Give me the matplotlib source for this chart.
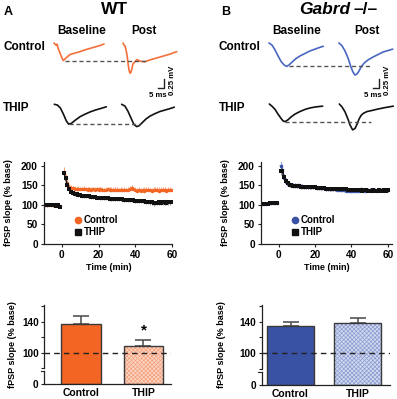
import numpy as np
import matplotlib
matplotlib.use('Agg')
import matplotlib.pyplot as plt
from matplotlib.lines import Line2D

W, H = 397, 399
plt.rcParams['font.family'] = ['Liberation Sans', 'DejaVu Sans']
plt.rcParams['font.weight'] = 'bold'
plt.rcParams['hatch.linewidth'] = 0.5

# ------------------------------------------------------------------ data
# example fPSP traces (time in ms, voltage in mV relative to trace start)
wt_ctrl_base_t = [0, 0.8, 1.5, 2.3, 3, 4.5, 6, 7, 8.3, 9.8, 12, 15.8, 19.5, 23.3, 27, 30.8, 34.5, 37.5]
wt_ctrl_base_v = [0, -0.03, -0.06, -0.03, -0.14, -0.28, -0.42, -0.49, -0.44, -0.39, -0.32, -0.28,
                  -0.24, -0.19, -0.15, -0.11, -0.07, -0.03]
wt_ctrl_post_t = [0, 0.75, 1.5, 2.25, 3, 3.75, 4.5, 5.25, 6, 6.75, 7.5, 9, 10.5, 12, 13.5, 16.5,
                  20.25, 24, 27.75, 31.5, 35.25, 40.3]
wt_ctrl_post_v = [0, -0.06, -0.08, -0.19, -0.33, -0.56, -0.75, -0.84, -0.81, -0.70, -0.58, -0.52,
                  -0.46, -0.49, -0.51, -0.52, -0.47, -0.43, -0.39, -0.35, -0.31, -0.24]
wt_thip_base_t = [0, 2.3, 4.5, 6.8, 9, 10.7, 12.8, 15.8, 19.5, 23.3, 27, 30.8, 34.5, 39]
wt_thip_base_v = [0, -0.02, -0.10, -0.27, -0.46, -0.55, -0.53, -0.44, -0.34, -0.27, -0.21, -0.16,
                  -0.12, -0.07]
wt_thip_post_t = [0, 2.5, 4.7, 7, 9.2, 11.3, 13, 15.2, 18.2, 21.2, 25, 28.7, 32.5, 36.2, 39.5]
wt_thip_post_v = [0, -0.05, -0.19, -0.38, -0.56, -0.62, -0.60, -0.52, -0.41, -0.33, -0.26, -0.20,
                  -0.16, -0.12, -0.08]

ko_ctrl_base_t = [0, 2.3, 4.5, 6.8, 9, 11.3, 13.3, 15, 17.3, 20.3, 23.3, 27, 30.8, 34.5, 38.3, 40.7]
ko_ctrl_base_v = [0, -0.06, -0.19, -0.36, -0.51, -0.61, -0.65, -0.61, -0.53, -0.43, -0.36, -0.29,
                  -0.22, -0.17, -0.12, -0.09]
ko_ctrl_post_t = [0, 2.3, 4.5, 6.8, 9, 10.5, 12, 13.5, 15, 16.5, 18.8, 21.8, 25.5, 29.3, 33, 36.8, 40.3]
ko_ctrl_post_v = [0, -0.08, -0.22, -0.42, -0.67, -0.81, -0.89, -0.86, -0.78, -0.67, -0.56, -0.47,
                  -0.39, -0.32, -0.25, -0.21, -0.17]
ko_thip_base_t = [0, 2, 4.3, 6.5, 8.8, 10.3, 11.8, 14, 16.3, 19.3, 23, 26.8, 30.5, 35, 40]
ko_thip_base_v = [0, -0.06, -0.15, -0.28, -0.40, -0.47, -0.49, -0.44, -0.36, -0.28, -0.21, -0.15,
                  -0.11, -0.08, -0.06]
ko_thip_post_t = [0, 2, 4.3, 6.5, 8, 10, 11.8, 13.3, 14.8, 16.3, 18, 20.8, 24.5, 29, 34.3, 40.5]
ko_thip_post_v = [0, -0.08, -0.22, -0.42, -0.58, -0.72, -0.68, -0.56, -0.42, -0.32, -0.26, -0.21,
                  -0.18, -0.14, -0.10, -0.06]

scale_ms = 5
scale_mv = 0.25

# time course (min) and fPSP slope (% baseline)
time_base = [-10, -9, -8, -7, -6, -5, -4, -3, -2, -1]
time_post = np.arange(1, 61)

wt_ctrl_base = [100, 101, 100, 99, 101, 100, 99, 100, 99, 97]
wt_thip_base = [100, 100, 99, 100, 100, 99, 100, 98, 99, 96]
wt_ctrl_post = [185, 170, 155, 147, 144, 143, 142, 141, 142, 141,
                140, 141, 140, 139, 140, 139, 140, 139, 140, 139,
                140, 139, 138, 139, 140, 139, 138, 139, 138, 139,
                138, 139, 138, 139, 138, 139, 140, 143, 140, 138,
                137, 138, 137, 138, 137, 138, 139, 138, 137, 138,
                139, 138, 137, 138, 139, 138, 137, 138, 138, 138]
wt_thip_post = [183, 168, 150, 140, 134, 131, 129, 128, 126, 125,
                124, 124, 123, 122, 122, 121, 120, 120, 119, 119,
                118, 118, 117, 117, 117, 116, 116, 115, 115, 115,
                114, 114, 114, 113, 113, 113, 112, 112, 112, 111,
                111, 110, 110, 109, 109, 108, 108, 107, 107, 105,
                106, 106, 107, 106, 107, 107, 106, 107, 107, 107]
wt_ctrl_base_err = [3, 3, 2, 3, 3, 2, 3, 3, 2, 3]
wt_thip_base_err = [3, 2, 3, 3, 2, 3, 3, 2, 3, 4]
wt_ctrl_post_err = [12, 10, 8, 7, 7, 6, 6, 6, 7, 6, 6, 7, 6, 6, 7, 6, 7, 6, 6, 7,
                    6, 7, 6, 6, 7, 6, 7, 6, 7, 6, 6, 7, 6, 7, 6, 7, 8, 9, 7, 7,
                    6, 7, 7, 6, 8, 7, 7, 6, 7, 8, 7, 7, 8, 7, 7, 8, 7, 7, 8, 7]
wt_thip_post_err = [10, 9, 8, 7, 6, 6, 5, 5, 5, 5, 5, 5, 5, 5, 5, 5, 5, 5, 5, 5,
                    5, 5, 5, 5, 5, 5, 5, 5, 5, 5, 5, 5, 5, 5, 5, 5, 5, 5, 5, 5,
                    5, 5, 5, 5, 5, 6, 6, 6, 6, 7, 6, 6, 6, 6, 6, 6, 6, 6, 6, 6]

ko_ctrl_base = [102, 103, 103, 103, 104, 104, 104, 105, 105, 105]
ko_thip_base = [102, 103, 103, 103, 103, 104, 104, 104, 105, 105]
ko_ctrl_post = [200, 190, 170, 160, 154, 152, 151, 150, 150, 149,
                149, 148, 148, 147, 147, 147, 146, 146, 145, 145,
                144, 144, 144, 143, 143, 142, 142, 141, 141, 140,
                140, 139, 139, 139, 138, 138, 137, 137, 136, 136,
                135, 135, 136, 137, 140, 138, 137, 137, 138, 138,
                137, 138, 138, 137, 138, 138, 138, 138, 138, 138]
ko_thip_post = [188, 186, 172, 162, 155, 152, 150, 149, 149, 148,
                148, 147, 147, 147, 146, 146, 146, 145, 145, 145,
                144, 144, 144, 143, 143, 142, 142, 142, 141, 142,
                141, 141, 142, 141, 140, 140, 140, 139, 139, 139,
                139, 138, 138, 138, 138, 137, 138, 138, 137, 137,
                137, 138, 137, 137, 138, 137, 137, 138, 137, 138]
ko_ctrl_base_err = [2, 2, 2, 2, 2, 2, 2, 2, 2, 2]
ko_thip_base_err = [2, 2, 2, 2, 2, 2, 2, 2, 2, 2]
ko_ctrl_post_err = [12, 15, 10, 8, 7, 6, 6, 6, 6, 6, 6, 6, 5, 5, 5, 5, 5, 5, 5, 5,
                    5, 5, 5, 5, 5, 5, 5, 5, 5, 5, 5, 5, 5, 5, 5, 5, 5, 5, 5, 5,
                    5, 5, 5, 5, 6, 5, 5, 5, 5, 5, 5, 5, 5, 5, 5, 5, 5, 5, 5, 5]
ko_thip_post_err = [12, 10, 8, 7, 6, 5, 5, 5, 5, 5, 5, 5, 5, 5, 5, 5, 5, 5, 5, 5,
                    5, 5, 5, 5, 5, 5, 5, 5, 5, 5, 5, 5, 5, 5, 5, 5, 5, 5, 5, 5,
                    5, 5, 5, 5, 5, 5, 5, 5, 5, 5, 5, 5, 5, 5, 5, 5, 5, 5, 5, 5]

# summary bars
bar_labels = ['Control', 'THIP']
wt_bar_mean = [137, 108]
wt_bar_sem = [10, 8]
ko_bar_mean = [135, 139]
ko_bar_sem = [5, 5.5]

# ------------------------------------------------------------------ style
ORANGE = '#F26522'
ORANGE_TR = '#F4703A'
ORANGE_ERR = '#F9A57E'
ORANGE_LIGHT = '#FBD5C3'
ORANGE_HATCH = '#F4A07C'
BLUE = '#3A52A4'
BLUE_TR = '#4A66C0'
BLUE_ERR = '#8FA2DC'
BLUE_LIGHT = '#D2D9EF'
BLUE_HATCH = '#8C9CD2'
SPINE = '#222222'
MS_PER_PX = 0.75
MV_PER_PX = 0.0278

fig = plt.figure(figsize=(W / 100, H / 100), dpi=100)


def px_axes(x0, y0, x1, y1):
    return fig.add_axes([x0 / W, 1 - y1 / H, (x1 - x0) / W, (y1 - y0) / H])


def ftext(x, y, s, **kw):
    return fig.text(x / W, 1 - y / H, s, **kw)


# ------------------------------------------------------------------ traces
def trace_row(box, origin, base_t, base_v, post_t, post_v, post_off, color,
              dash_from, dash_to, scalebar=False):
    x0, y0, x1, y1 = box
    ox, oy = origin
    ax = px_axes(*box)
    ax.set_xlim((x0 - ox) * MS_PER_PX, (x1 - ox) * MS_PER_PX)
    ax.set_ylim(-(y1 - oy) * MV_PER_PX, -(y0 - oy) * MV_PER_PX)
    ax.axis('off')
    ax.plot(base_t, base_v, color=color, lw=1.2, solid_capstyle='round')
    ax.plot(np.asarray(post_t) + post_off, post_v, color=color, lw=1.2,
            solid_capstyle='round')
    lvl = min(base_v)
    ax.plot([dash_from, dash_to], [lvl, lvl], color='#555555', lw=1.0,
            ls=(0, (3, 2)))
    if scalebar:
        bx = 110.3 * MS_PER_PX
        by = -1.0
        ax.plot([bx - scale_ms, bx, bx], [by - scale_mv, by - scale_mv, by],
                color='#222222', lw=1.0, clip_on=False)
        ax.text(bx - scale_ms / 2 - 2.5, by - scale_mv - 0.1, '5 ms',
                ha='center', va='top', fontsize=5.6)
        ax.text(bx + 6.5, by - scale_mv / 2 + 0.08, '0.25 mV', rotation=90,
                ha='center', va='center', fontsize=5.6)
    return ax


trace_row((50, 36, 180, 100), (54, 43), wt_ctrl_base_t, wt_ctrl_base_v,
          wt_ctrl_post_t, wt_ctrl_post_v, 51.75, ORANGE_TR, 8.3, 70.5, scalebar=True)
trace_row((50, 98, 180, 132), (54.3, 104.3), wt_thip_base_t, wt_thip_base_v,
          wt_thip_post_t, wt_thip_post_v, 50.5, '#111111', 11, 64.3)
trace_row((265, 36, 397, 100), (269, 43), ko_ctrl_base_t, ko_ctrl_base_v,
          ko_ctrl_post_t, ko_ctrl_post_v, 52.5, BLUE_TR, 15, 76.5, scalebar=True)
trace_row((265, 98, 397, 132), (269.3, 104), ko_thip_base_t, ko_thip_base_v,
          ko_thip_post_t, ko_thip_post_v, 52.5, '#111111', 11.8, 76.3)

# headers
ftext(8, 12, 'A', ha='center', va='center', fontsize=9)
ftext(115, 10, 'WT', ha='center', va='center', fontsize=12.5)
ftext(226, 12, 'B', ha='center', va='center', fontsize=9)
ftext(350, 10, 'Gabrd', ha='right', va='center', fontsize=12.5, style='italic')
ftext(354, 10, '–/–', ha='left', va='center', fontsize=12.5)
for xb, xp in [(82, 144), (297, 367)]:
    ftext(xb, 31, 'Baseline', ha='center', va='center', fontsize=8.5)
    ftext(xp, 31, 'Post', ha='center', va='center', fontsize=8.5)
for xl in [3, 219]:
    ftext(xl, 47.5, 'Control', ha='left', va='center', fontsize=8.5)
    ftext(xl, 108, 'THIP', ha='left', va='center', fontsize=8.5)


# ------------------------------------------------------------------ time course
def style_axes(ax):
    for s in ['top', 'right']:
        ax.spines[s].set_visible(False)
    for s in ['left', 'bottom']:
        ax.spines[s].set_color(SPINE)
        ax.spines[s].set_linewidth(0.9)
    ax.tick_params(direction='out', length=2.5, width=0.8, colors=SPINE,
                   labelsize=7.2, pad=1.5, labelcolor='black')
    ax.patch.set_alpha(0)


def timecourse(box, xmax, c_base, c_post, t_base, t_post, c_be, c_pe, t_be, t_pe,
               ccol, cerr, leg_xy, ylab_x):
    ax = px_axes(*box)
    style_axes(ax)
    ax.set_xlim(-10, xmax)
    ax.set_ylim(0, 210)
    ax.set_yticks([0, 50, 100, 150, 200])
    ax.set_xticks([0, 20, 40, 60])
    for tt, cv, tv, ce, te in [(time_base, c_base, t_base, c_be, t_be),
                               (time_post, c_post, t_post, c_pe, t_pe)]:
        z = np.zeros(len(tt))
        ax.errorbar(tt, cv, yerr=[z, ce], fmt='none', ecolor=cerr, elinewidth=0.8,
                    capsize=0)
        ax.errorbar(tt, tv, yerr=[te, z], fmt='none', ecolor='#9A9A9A',
                    elinewidth=0.8, capsize=0)
        ax.plot(tt, cv, '-o', color=ccol, ms=2.5, lw=1.0, mew=0)
        ax.plot(tt, tv, '-s', color='#111111', ms=2.3, lw=1.0, mew=0)
    handles = [Line2D([], [], ls='none', marker='o', color=ccol, ms=4.5),
               Line2D([], [], ls='none', marker='s', color='#111111', ms=4)]
    ax.legend(handles, ['Control', 'THIP'], loc='upper left', frameon=False,
              bbox_to_anchor=(leg_xy[0] / W, 1 - leg_xy[1] / H),
              bbox_transform=fig.transFigure, fontsize=7, handlelength=0.6,
              handletextpad=0.3, labelspacing=0.25, borderpad=0, borderaxespad=0)
    ftext(ylab_x, 203, 'fPSP slope (% base)', rotation=90, ha='center',
          va='center', fontsize=6.5)
    ftext((box[0] + box[2]) / 2 + 1, 267, 'Time (min)', ha='center', va='center',
          fontsize=6.5)
    return ax


timecourse((43.5, 162, 172, 244), 60, wt_ctrl_base, wt_ctrl_post, wt_thip_base,
           wt_thip_post, wt_ctrl_base_err, wt_ctrl_post_err, wt_thip_base_err,
           wt_thip_post_err, ORANGE, ORANGE_ERR, (75, 215), 9)
timecourse((260.5, 162, 391.5, 244), 62, ko_ctrl_base, ko_ctrl_post, ko_thip_base,
           ko_thip_post, ko_ctrl_base_err, ko_ctrl_post_err, ko_thip_base_err,
           ko_thip_post_err, BLUE, BLUE_ERR, (292, 215), 226)


# ------------------------------------------------------------------ bars
def fwd(y):
    y = np.asarray(y, float)
    return np.where(y >= 80, y, 80 - (80 - y) * 0.26)


def inv(y):
    y = np.asarray(y, float)
    return np.where(y >= 80, y, 80 - (80 - y) / 0.26)


def bars(box, xlim, width, means, sems, col, light, hatchcol, ylab_x, star=False):
    ax = px_axes(*box)
    style_axes(ax)
    ax.set_yscale('function', functions=(fwd, inv))
    ax.set_xlim(*xlim)
    ax.set_ylim(0, 161.5)
    ax.spines['left'].set_visible(False)
    tr = ax.get_yaxis_transform()
    ax.plot([0, 0], [80, 161.5], transform=tr, color=SPINE, lw=0.9, clip_on=False)
    ax.plot([0, 0], [0, 65], transform=tr, color=SPINE, lw=0.9, clip_on=False)
    ax.plot([-0.025, 0], [65, 65], transform=tr, color=SPINE, lw=0.8, clip_on=False)
    ax.set_yticks([0, 100, 140])
    ax.set_yticks([80, 120, 160], minor=True)
    ax.tick_params(axis='y', which='minor', length=2.5, width=0.8, colors=SPINE)
    x = np.arange(len(means))
    ax.bar(x, means, width=width, color=[col, light], zorder=2, lw=0,
           edgecolor=['none', hatchcol], hatch=['', 'xxxxxxxx'])
    ax.bar(x, means, width=width, fill=False, edgecolor='#3A3A3A', lw=1.0, zorder=3)
    ax.errorbar(x, means, yerr=[np.zeros(len(sems)), sems], fmt='none',
                ecolor='#555555', elinewidth=1.2, capsize=6, capthick=1.2, zorder=1.5)
    ax.axhline(100, color='#222222', lw=1.0, ls=(0, (4, 3)), zorder=4)
    ax.set_xticks(x)
    ax.set_xticklabels(bar_labels, fontsize=7.5)
    ax.tick_params(axis='x', length=0, pad=3)
    if star:
        ax.text(1, means[1] + sems[1] + 4, '*', ha='center', va='bottom',
                fontsize=11)
    ftext(ylab_x, 345, 'fPSP slope (% base)', rotation=90, ha='center',
          va='center', fontsize=6.5)
    return ax


bars((44.3, 305, 171, 384.3), (-0.583, 1.439), 0.638, wt_bar_mean, wt_bar_sem,
     ORANGE, ORANGE_LIGHT, ORANGE_HATCH, 13, star=True)
bars((261.7, 305, 390, 385), (-0.43, 1.485), 0.71, ko_bar_mean, ko_bar_sem,
     BLUE, BLUE_LIGHT, BLUE_HATCH, 222)

fig.savefig('out.png', dpi=100)
